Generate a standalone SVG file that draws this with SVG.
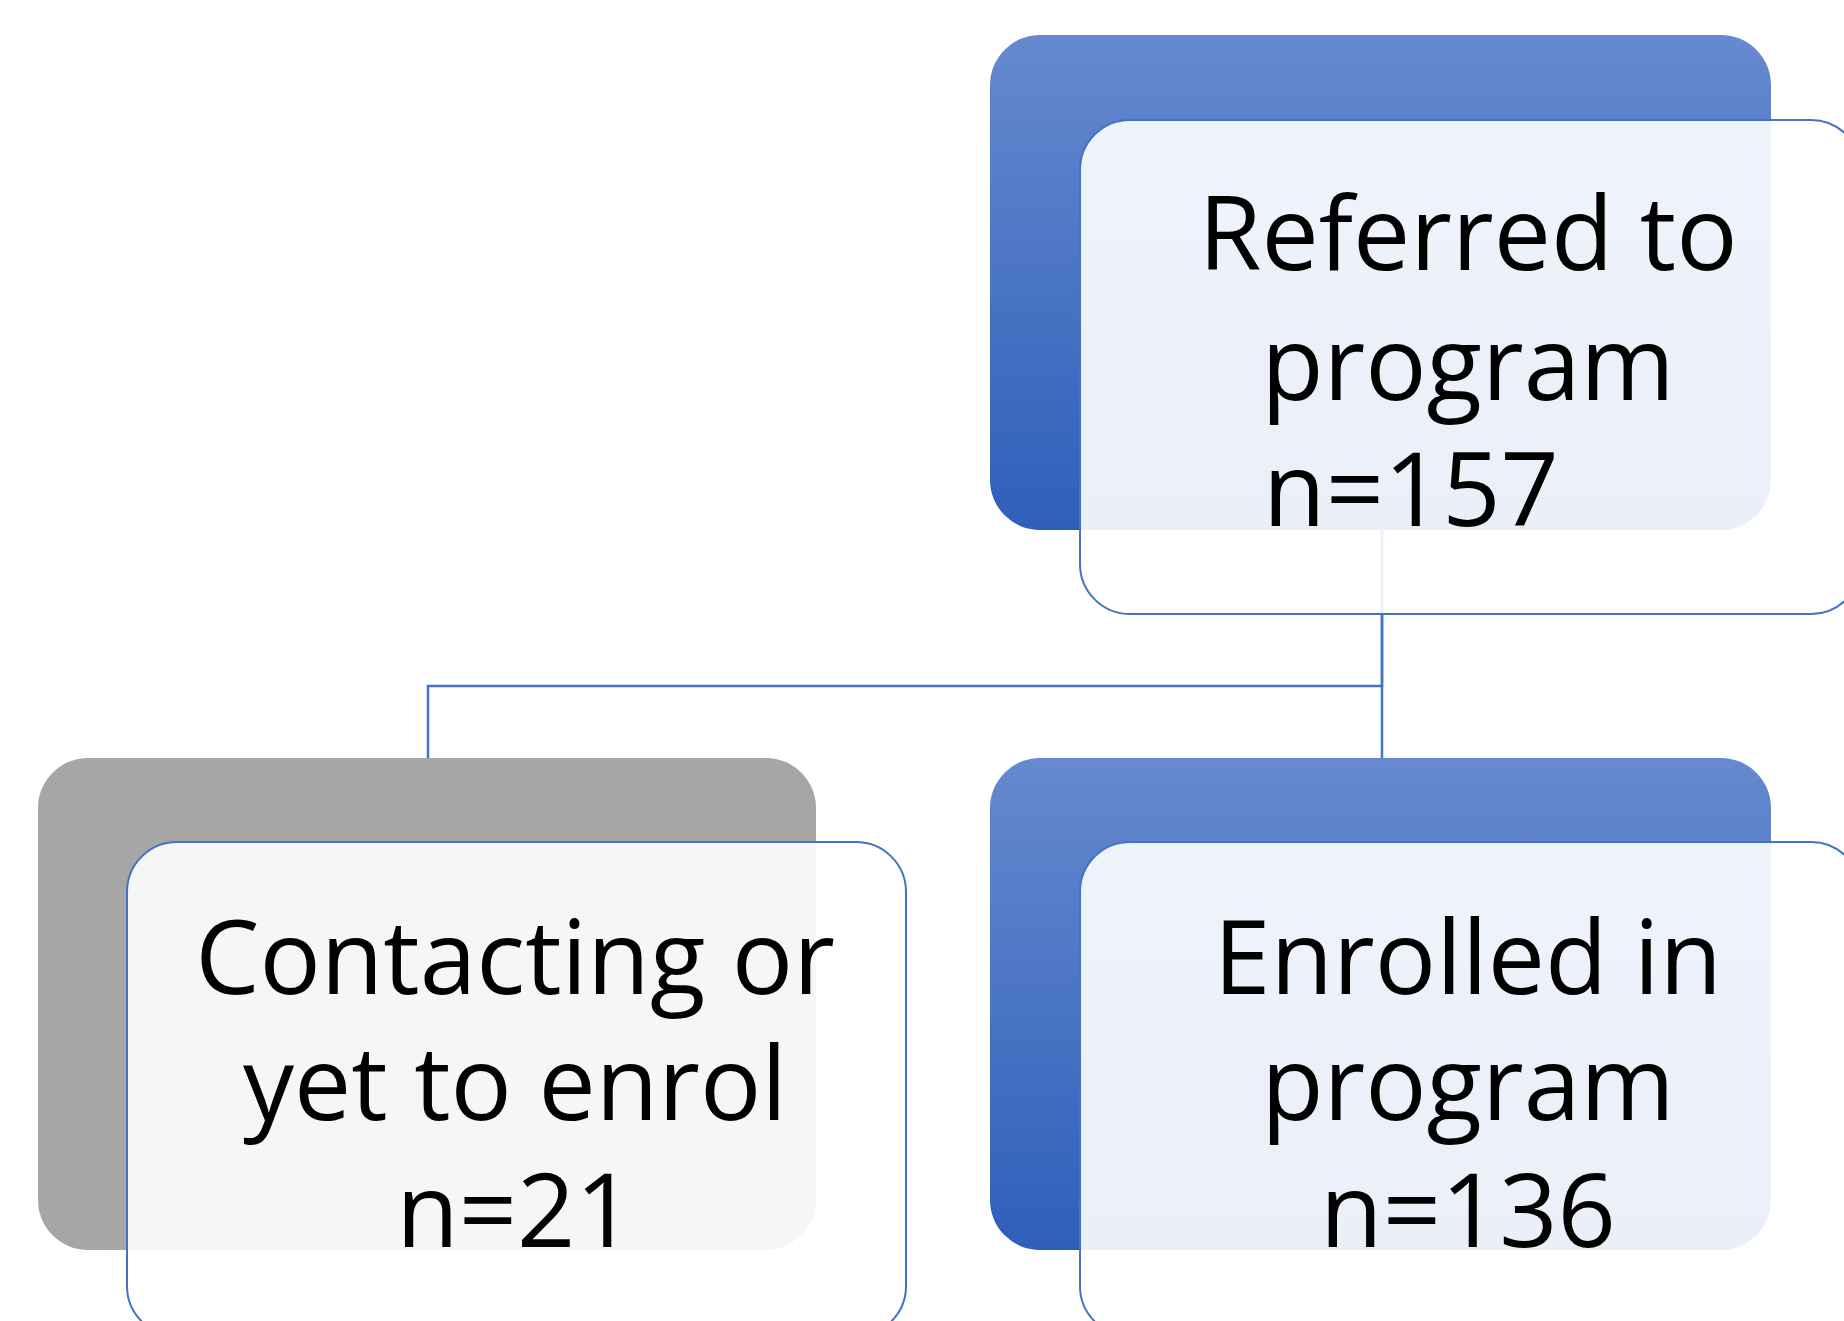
<svg xmlns="http://www.w3.org/2000/svg" width="1844" height="1321" viewBox="0 0 1844 1321">
<defs>
<linearGradient id="blue" x1="0" y1="0" x2="0" y2="1">
<stop offset="0" stop-color="#6689CF"/>
<stop offset="1" stop-color="#2E5FBA"/>
</linearGradient>
<style>
.back-blue{fill:url(#blue);}
.back-gray{fill:#A6A6A6;}
.front{fill:#FFFFFF;fill-opacity:0.9;stroke:#4472C4;stroke-width:2;}
.conn{fill:none;stroke:#4472C4;stroke-width:2.5;}
.lbl{font-family:"Open Sans","Noto Sans",sans-serif;font-size:102px;fill:#000000;text-anchor:middle;}
</style>
</defs>
<rect width="1844" height="1321" fill="#FFFFFF"/>
<g id="back-shapes">
<rect class="back-blue" x="990" y="35" width="781" height="495" rx="50" ry="50"/>
<rect class="back-gray" x="38" y="758" width="778" height="492" rx="50" ry="50"/>
<rect class="back-blue" x="990" y="758" width="781" height="492" rx="50" ry="50"/>
</g>
<g id="connectors">
<path class="conn" d="M1382,530 V686 H428 V758"/>
<path class="conn" d="M1382,530 V758"/>
</g>
<g id="node-referred">
<rect class="front" x="1080" y="120" width="781" height="494" rx="50" ry="50"/>
<text class="lbl" x="1468" y="270">Referred to</text>
<text class="lbl" x="1468" y="400">program</text>
<text class="lbl" x="1411" y="526">n=157</text>
</g>
<g id="node-contacting">
<rect class="front" x="127" y="842" width="779" height="494" rx="50" ry="50"/>
<text class="lbl" x="515" y="994">Contacting or</text>
<text class="lbl" x="515" y="1120">yet to enrol</text>
<text class="lbl" x="515" y="1247">n=21</text>
</g>
<g id="node-enrolled">
<rect class="front" x="1080" y="842" width="781" height="494" rx="50" ry="50"/>
<text class="lbl" x="1468" y="994">Enrolled in</text>
<text class="lbl" x="1468" y="1120">program</text>
<text class="lbl" x="1468" y="1247">n=136</text>
</g>
</svg>
